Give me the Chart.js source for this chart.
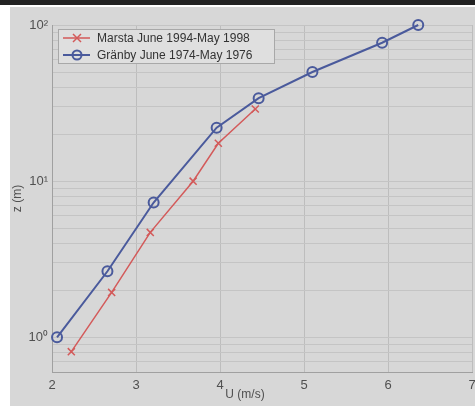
<!DOCTYPE html>
<html><head><meta charset="utf-8">
<script src="https://cdn.jsdelivr.net/npm/chart.js@4.4.0/dist/chart.umd.min.js"></script>
<style>
html,body{margin:0;padding:0;background:#fff;width:475px;height:406px;overflow:hidden}
#bar{position:absolute;left:0;top:0;width:475px;height:5px;background:#222}
#wrap{position:absolute;left:10px;top:7px;width:469px;height:399px;background:#d7d7d7}
</style></head><body>
<div id="bar"></div>
<div id="wrap"><canvas id="c" width="469" height="399"></canvas></div>
<script>
const marstaLabel = "Marsta June 1994-May 1998";
const granbyLabel = "Gränby June 1974-May 1976";
const xTitle = "U (m/s)";
const marstaU = [2.23, 2.71, 3.17, 3.68, 3.98, 4.42];
const marstaZ = [0.81, 1.94, 4.7, 10.0, 17.5, 29];
const granbyU = [2.06, 2.66, 3.21, 3.96, 4.46, 5.10, 5.93, 6.36];
const granbyZ = [1.0, 2.65, 7.3, 22, 34, 50, 77, 100];
const xTicks = [2, 3, 4, 5, 6, 7];
const yGrid = [0.6,0.7,0.8,0.9,1,2,3,4,5,6,7,8,9,10,20,30,40,50,60,70,80,90,100];
const yLabels = {1:"10⁰", 10:"10¹", 100:"10²"};

const red = "#d35a5a", blue = "#4a5a9c";
const pts = (u,z)=>u.map((v,i)=>({x:v,y:z[i]}));

const legendBox = {
  id:'legendBox',
  afterDraw(chart){
    const ctx = chart.ctx;
    const x0=48, y0=22, w=216, h=34;
    ctx.save();
    ctx.fillStyle="#dfdfdf"; ctx.fillRect(x0,y0,w,h);
    ctx.strokeStyle="#a8a8a8"; ctx.lineWidth=1; ctx.strokeRect(x0+0.5,y0+0.5,w,h);
    const items=[[chart.data.datasets[0],31],[chart.data.datasets[1],48]];
    items.forEach(([ds,y],i)=>{
      ctx.strokeStyle=ds.borderColor; ctx.lineWidth=ds.borderWidth;
      ctx.beginPath(); ctx.moveTo(53,y); ctx.lineTo(80,y); ctx.stroke();
      ctx.lineWidth=ds.pointBorderWidth;
      if(i===0){
        ctx.beginPath(); ctx.moveTo(63,y-4);ctx.lineTo(71,y+4);ctx.moveTo(71,y-4);ctx.lineTo(63,y+4);ctx.stroke();
      } else {
        ctx.beginPath(); ctx.arc(67,y,4.5,0,Math.PI*2); ctx.stroke();
      }
      ctx.fillStyle="#333"; ctx.font="12px 'Liberation Sans', Arial, sans-serif";
      ctx.textBaseline="middle"; ctx.textAlign="left";
      ctx.fillText(ds.label,87,y+1);
    });
    ctx.fillStyle="#505050"; ctx.font="12px 'Liberation Sans', Arial, sans-serif";
    ctx.textAlign="center"; ctx.textBaseline="middle";
    ctx.fillText(xTitle,235,388);
    ctx.restore();
  }
};

new Chart(document.getElementById('c'),{
  type:'line',
  data:{datasets:[
    {label:marstaLabel,data:pts(marstaU,marstaZ),borderColor:red,backgroundColor:'transparent',clip:false,
     borderWidth:1.5,pointStyle:'crossRot',pointRadius:5,pointBorderWidth:1.5,pointBorderColor:red,tension:0},
    {label:granbyLabel,data:pts(granbyU,granbyZ),borderColor:blue,backgroundColor:'transparent',clip:false,
     borderWidth:2,pointStyle:'circle',pointRadius:5,pointBorderWidth:2,pointBorderColor:blue,pointBackgroundColor:'transparent',tension:0}
  ]},
  options:{
    responsive:false,animation:false,
    layout:{padding:{top:18,right:0,left:0,bottom:0}},
    plugins:{legend:{display:false},tooltip:{enabled:false}},
    scales:{
      x:{type:'linear',min:2,max:7,
        afterBuildTicks:s=>{s.ticks=xTicks.map(v=>({value:v}));},
        afterFit:s=>{s.height=34;s.paddingRight=0;s.paddingLeft=0;},
        grid:{color:"#bdbdbd",drawTicks:false,lineWidth:1},
        border:{color:"#a0a0a0"},
        ticks:{color:"#505050",font:{size:13,family:"'Liberation Sans', Arial"},padding:6,maxRotation:0}
      },
      y:{type:'logarithmic',min:0.6,max:100,
        afterBuildTicks:s=>{s.ticks=yGrid.map(v=>({value:v}));},
        afterFit:s=>{s.width=42;s.paddingTop=0;s.paddingBottom=0;},
        grid:{color:"#c4c4c4",drawTicks:false,lineWidth:1},
        border:{color:"#a0a0a0"},
        ticks:{color:"#505050",font:{size:13,family:"'Liberation Sans', Arial"},padding:4,autoSkip:false,
          callback:v=>yLabels[v]||""},
        title:{display:true,text:"z (m)",color:"#505050",font:{size:12,family:"'Liberation Sans', Arial"},padding:{top:0,bottom:2}}
      }
    }
  },
  plugins:[legendBox]
});
</script></body></html>
